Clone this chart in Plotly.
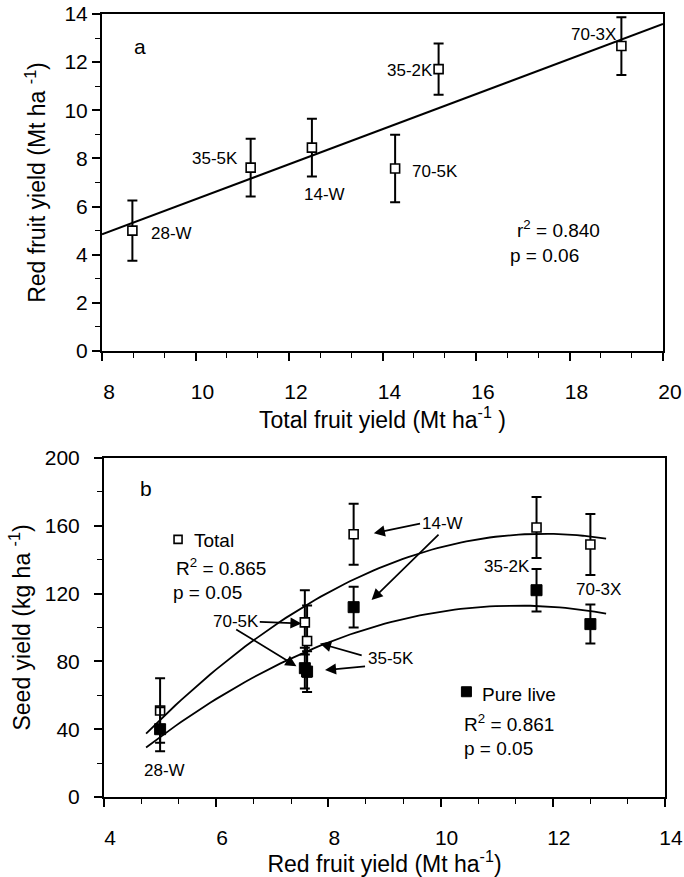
import numpy as np
import plotly.graph_objects as go

# ---------------- data ----------------
categories = ["28-W", "35-5K", "14-W", "70-5K", "35-2K", "70-3X"]
total_fruit = [8.65, 11.18, 12.49, 14.27, 15.20, 19.11]      # Mt/ha
red_fruit = [5.00, 7.62, 8.45, 7.58, 11.71, 12.67]           # Mt/ha
red_fruit_err = [1.25, 1.20, 1.20, 1.40, 1.06, 1.20]
seed_total = [51, 92, 155, 103, 159, 149]                    # kg/ha
seed_total_err = [19, 21, 18, 19, 18, 18]
seed_pls = [40, 74, 112, 76, 122, 102]                       # kg/ha
seed_pls_err = [13, 12, 12, 12, 12.5, 11.5]

FONT = "Liberation Sans, Arial, Helvetica, sans-serif"
W, H = 684, 877

fig = go.Figure()

# ---------------- panel a ----------------
slope, intercept = np.polyfit(total_fruit, red_fruit, 1)
xa = np.linspace(8, 20, 60)
fig.add_trace(go.Scatter(x=xa, y=slope * xa + intercept, mode="lines",
                         line=dict(color="black", width=2), xaxis="x", yaxis="y",
                         showlegend=False, hoverinfo="skip"))
fig.add_trace(go.Scatter(x=total_fruit, y=red_fruit, mode="markers", text=categories,
                         error_y=dict(type="data", array=red_fruit_err, color="black",
                                      thickness=2, width=5),
                         marker=dict(symbol="square", size=9, color="white",
                                     line=dict(color="black", width=1.6)),
                         xaxis="x", yaxis="y", showlegend=False))

# ---------------- panel b ----------------
xb = np.linspace(4.75, 12.95, 80)
c_tot = np.polyfit(red_fruit, seed_total, 2)
c_pls = np.polyfit(red_fruit, seed_pls, 2)
fig.add_trace(go.Scatter(x=xb, y=np.polyval(c_tot, xb), mode="lines",
                         line=dict(color="black", width=1.8), xaxis="x2", yaxis="y2",
                         showlegend=False, hoverinfo="skip"))
fig.add_trace(go.Scatter(x=xb, y=np.polyval(c_pls, xb), mode="lines",
                         line=dict(color="black", width=1.8), xaxis="x2", yaxis="y2",
                         showlegend=False, hoverinfo="skip"))
fig.add_trace(go.Scatter(x=red_fruit, y=seed_total, mode="markers", name="Total",
                         text=categories,
                         error_y=dict(type="data", array=seed_total_err, color="black",
                                      thickness=2, width=5),
                         marker=dict(symbol="square", size=9, color="white",
                                     line=dict(color="black", width=1.6)),
                         xaxis="x2", yaxis="y2", showlegend=False))
fig.add_trace(go.Scatter(x=red_fruit, y=seed_pls, mode="markers", name="Pure live",
                         text=categories,
                         error_y=dict(type="data", array=seed_pls_err, color="black",
                                      thickness=2, width=5),
                         marker=dict(symbol="square", size=11, color="black",
                                     line=dict(color="black", width=1)),
                         xaxis="x2", yaxis="y2", showlegend=False))

# ---------------- axes ----------------
tickfont = dict(family=FONT, size=21, color="black")
titlefont = dict(family=FONT, size=23, color="black")
common = dict(showgrid=False, zeroline=False, showline=True, linecolor="black",
              linewidth=2, mirror=True, ticks="outside", ticklen=8, tickwidth=1.6,
              tickcolor="black", tickfont=tickfont, automargin=False,
              ticklabeloverflow="allow")
minor_x = dict(dtick=2 / 3, ticks="outside", ticklen=5, tickwidth=1.4, tickcolor="black")

fig.update_layout(
    width=W, height=H, margin=dict(l=0, r=0, t=0, b=0),
    paper_bgcolor="white", plot_bgcolor="white",
    font=dict(family=FONT, color="black"),
    xaxis=dict(domain=[102 / W, 663 / W], range=[8, 20], dtick=2, anchor="y",
               minor=minor_x, ticklabelstandoff=13, ticklabelshift=7,
               title=dict(text="Total fruit yield (Mt ha<sup>-1</sup> )", font=titlefont,
                          standoff=4), **common),
    yaxis=dict(domain=[1 - 351 / H, 1 - 14 / H], range=[0, 14], dtick=2, anchor="x",
               minor=dict(dtick=1, ticks="outside", ticklen=5, tickwidth=1.4,
                          tickcolor="black"),
               ticklabelstandoff=0,
               title=dict(text="Red fruit yield (Mt ha <sup>-1</sup>)", font=titlefont,
                          standoff=12), **common),
    xaxis2=dict(domain=[104 / W, 665 / W], range=[4, 14], dtick=2, anchor="y2",
                minor=minor_x, ticklabelstandoff=13, ticklabelshift=6,
                title=dict(text="Red fruit yield (Mt ha<sup>-1</sup>)", font=titlefont,
                           standoff=5), **common),
    yaxis2=dict(domain=[1 - 797 / H, 1 - 458 / H], range=[0, 200], dtick=40, anchor="x2",
                minor=dict(dtick=20, ticks="outside", ticklen=5, tickwidth=1.4,
                           tickcolor="black"),
                ticklabelstandoff=10,
                title=dict(text="Seed yield (kg ha <sup>-1</sup>)", font=titlefont,
                           standoff=8), **common),
)

# ---------------- annotations ----------------
lab = dict(family=FONT, size=17, color="black")
big = dict(family=FONT, size=19, color="black")
letter = dict(family=FONT, size=21, color="black")
ann = []


def txt(x, y, s, ax_="x", font=lab, xanchor="center"):
    ax_id = "" if ax_ == "x" else "2"
    ann.append(dict(x=x, y=y, xref="x" + ax_id, yref="y" + ax_id, text=s,
                    showarrow=False, font=font, xanchor=xanchor, yanchor="middle"))


def arrow(xh, yh, xt, yt):
    ann.append(dict(x=xh, y=yh, ax=xt, ay=yt, xref="x2", yref="y2", axref="x2",
                    ayref="y2", text="", showarrow=True, arrowhead=2, arrowsize=1.3,
                    arrowwidth=1.7, arrowcolor="black", standoff=0, startstandoff=0))


# panel a labels
txt(8.81, 12.64, "a", font=letter)
txt(18.52, 13.14, "70-3X")
txt(14.59, 11.64, "35-2K")
txt(10.41, 8.00, "35-5K")
txt(12.76, 6.52, "14-W")
txt(15.12, 7.46, "70-5K")
txt(9.48, 4.88, "28-W")
txt(16.83, 5.08, "r<sup>2</sup> = 0.840", font=big, xanchor="left")
txt(16.68, 3.98, "p = 0.06", font=big, xanchor="left")

# panel b labels
txt(4.74, 182.3, "b", ax_="x2", font=letter)
txt(10.04, 161.5, "14-W", ax_="x2")
txt(6.35, 103.4, "70-5K", ax_="x2")
txt(9.11, 81.8, "35-5K", ax_="x2")
txt(11.19, 136.0, "35-2K", ax_="x2")
txt(12.82, 122.2, "70-3X", ax_="x2")
txt(5.08, 15.8, "28-W", ax_="x2")
txt(5.56, 151.6, "Total", ax_="x2", font=big, xanchor="left")
txt(5.25, 135.8, "R<sup>2</sup> = 0.865", ax_="x2", font=big, xanchor="left")
txt(5.19, 120.4, "p = 0.05", ax_="x2", font=big, xanchor="left")
txt(10.70, 60.2, "Pure live", ax_="x2", font=big, xanchor="left")
txt(10.39, 43.4, "R<sup>2</sup> = 0.861", ax_="x2", font=big, xanchor="left")
txt(10.39, 28.6, "p = 0.05", ax_="x2", font=big, xanchor="left")

# arrows (head x, head y, tail x, tail y)
arrow(8.81, 155.6, 9.66, 161.5)
arrow(8.77, 116.2, 9.99, 155.6)
arrow(7.52, 102.4, 6.75, 103.4)
arrow(7.43, 77.1, 6.33, 99.4)
arrow(7.85, 90.6, 8.62, 83.3)
arrow(7.94, 74.9, 8.68, 77.1)

fig.update_layout(annotations=ann)

# legend keys
fig.add_shape(type="rect", xref="x2", yref="y2", xsizemode="pixel", ysizemode="pixel",
              xanchor=5.32, yanchor=152.0, x0=-4, x1=4, y0=-4, y1=4,
              line=dict(color="black", width=1.6), fillcolor="white")
fig.add_shape(type="rect", xref="x2", yref="y2", xsizemode="pixel", ysizemode="pixel",
              xanchor=10.46, yanchor=62.1, x0=-5, x1=5, y0=-5, y1=5,
              line=dict(color="black", width=1), fillcolor="black")

fig.write_html("out.html")
